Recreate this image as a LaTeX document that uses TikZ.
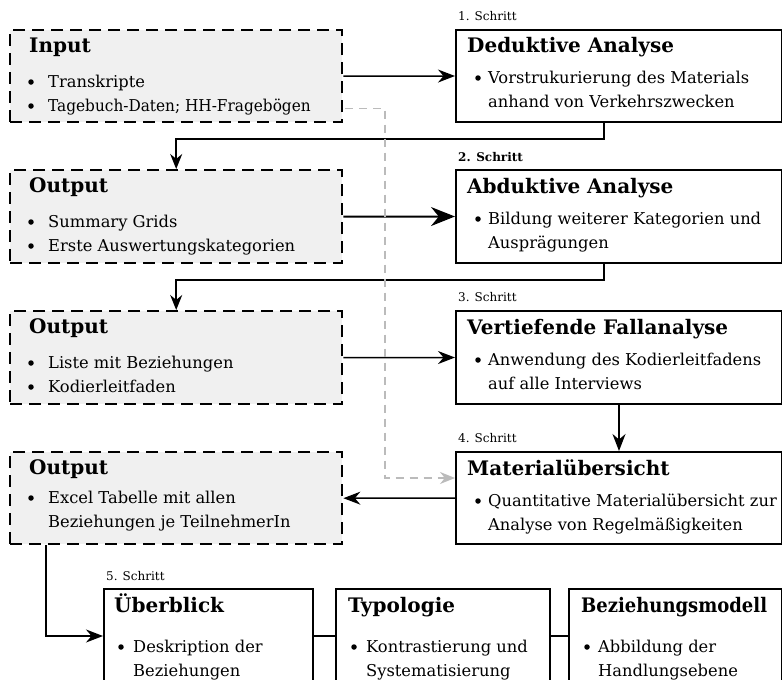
\documentclass[tikz,border=0pt]{standalone}
\usepackage{fontspec}
\usepackage{graphicx}
\setmainfont{DejaVu Serif}
\usetikzlibrary{arrows.meta,calc}
\definecolor{boxgray}{HTML}{F0F0F0}
\definecolor{linkgray}{HTML}{BBBBBB}
\tikzset{
  solidbox/.style={draw, line width=2pt, fill=white, inner sep=0pt, anchor=north west},
  dashbox/.style={draw, line width=2.4pt, dash pattern=on 12pt off 7pt, fill=boxgray, inner sep=0pt, anchor=north west},
  boxtitle/.style={font=\bfseries\fontsize{20}{24}\selectfont, anchor=base west, inner sep=0pt},
  itemtxt/.style={font=\fontsize{16.3}{20}\selectfont, anchor=base west, inner sep=0pt},
  dot/.style={circle, fill=black, inner sep=0pt, minimum size=5.5pt},
  steplabel/.style={font=\fontsize{12}{14}\selectfont, anchor=base west, inner sep=0pt},
  link/.style={line width=1.5pt, -{Stealth[length=17pt,width=13pt]}},
  biglink/.style={line width=2pt, -{Stealth[length=24pt,width=19pt]}},
  plain/.style={line width=1.5pt},
  hint/.style={line width=1.4pt, linkgray, dash pattern=on 8pt off 6pt, -{Stealth[length=15pt,width=12pt]}}
}
\begin{document}
\begin{tikzpicture}[x=1pt,y=-1pt]
\useasboundingbox (0,0) rectangle (782,680);
\begin{scope}
\clip (0,0) rectangle (782,680);

% left column: inputs and outputs
\node[dashbox, minimum width=332pt, minimum height=92pt] (inp) at (9,29) {};
\node[dashbox, minimum width=332pt, minimum height=93pt] (out1) at (9,169) {};
\node[dashbox, minimum width=332pt, minimum height=93pt] (out2) at (9,310) {};
\node[dashbox, minimum width=332pt, minimum height=92pt] (out3) at (9,451) {};

% right column: steps 1-4
\node[solidbox, minimum width=326pt, minimum height=92pt] (ded) at (455,29) {};
\node[solidbox, minimum width=326pt, minimum height=93pt] (abd) at (455,169) {};
\node[solidbox, minimum width=326pt, minimum height=93pt] (vert) at (455,310) {};
\node[solidbox, minimum width=326pt, minimum height=92pt] (mat) at (455,451) {};

% bottom row: step 5
\node[solidbox, minimum width=209pt, minimum height=94pt] (ueb) at (103,588) {};
\node[solidbox, minimum width=214pt, minimum height=94pt] (typ) at (335,588) {};
\node[solidbox, minimum width=213pt, minimum height=94pt] (bez) at (568,588) {};
\end{scope}

% step labels
\node[steplabel] (s1) at (458,20) {1. Schritt};
\node[steplabel, font=\bfseries\fontsize{12}{14}\selectfont] (s2) at (458,161) {2. Schritt};
\node[steplabel] (s3) at (458,301) {3. Schritt};
\node[steplabel] (s4) at (458,442) {4. Schritt};
\node[steplabel] (s5) at (106,580) {5. Schritt};

% Input
\node[boxtitle] (inpT) at (29,52) {Input};
\node[dot] (inpB1) at (31,82) {};
\node[itemtxt] (inpL1) at (48,87) {Transkripte};
\node[dot] (inpB2) at (31,106) {};
\node[itemtxt] (inpL2) at (48,111) {\scalebox{0.94}[1]{Tagebuch-Daten; HH-Fragebögen}};

% Output 1
\node[boxtitle] (o1T) at (29,192) {Output};
\node[dot] (o1B1) at (31,222) {};
\node[itemtxt] (o1L1) at (48,227) {Summary Grids};
\node[dot] (o1B2) at (31,246) {};
\node[itemtxt] (o1L2) at (48,251) {Erste Auswertungskategorien};

% Output 2
\node[boxtitle] (o2T) at (29,333) {Output};
\node[dot] (o2B1) at (31,363) {};
\node[itemtxt] (o2L1) at (48,368) {Liste mit Beziehungen};
\node[dot] (o2B2) at (31,387) {};
\node[itemtxt] (o2L2) at (48,392) {Kodierleitfaden};

% Output 3
\node[boxtitle] (o3T) at (29,474) {Output};
\node[dot] (o3B1) at (31,498) {};
\node[itemtxt] (o3L1) at (48,503) {Excel Tabelle mit allen};
\node[itemtxt] (o3L2) at (48,527) {Beziehungen je TeilnehmerIn};

% Step 1
\node[boxtitle] (dedT) at (467,52) {Deduktive Analyse};
\node[dot] (dedB) at (478,78) {};
\node[itemtxt] (dedL1) at (488,83) {Vorstrukurierung des Materials};
\node[itemtxt] (dedL2) at (488,107) {anhand von Verkehrszwecken};

% Step 2
\node[boxtitle] (abdT) at (467,193) {Abduktive Analyse};
\node[dot] (abdB) at (478,219) {};
\node[itemtxt] (abdL1) at (488,224) {Bildung weiterer Kategorien und};
\node[itemtxt] (abdL2) at (488,248) {Ausprägungen};

% Step 3
\node[boxtitle] (vertT) at (467,334) {Vertiefende Fallanalyse};
\node[dot] (vertB) at (478,360) {};
\node[itemtxt] (vertL1) at (488,365) {Anwendung des Kodierleitfadens};
\node[itemtxt] (vertL2) at (488,389) {auf alle Interviews};

% Step 4
\node[boxtitle] (matT) at (467,475) {Materialübersicht};
\node[dot] (matB) at (478,501) {};
\node[itemtxt] (matL1) at (488,506) {Quantitative Materialübersicht zur};
\node[itemtxt] (matL2) at (488,530) {Analyse von Regelmäßigkeiten};

% Step 5
\node[boxtitle] (uebT) at (114,612) {Überblick};
\node[dot] (uebB) at (121,647) {};
\node[itemtxt] (uebL1) at (133,652) {Deskription der};
\node[itemtxt] (uebL2) at (133,676) {Beziehungen};

\node[boxtitle] (typT) at (348,612) {Typologie};
\node[dot] (typB) at (354,647) {};
\node[itemtxt] (typL1) at (366,652) {Kontrastierung und};
\node[itemtxt] (typL2) at (366,676) {Systematisierung};

\node[boxtitle] (bezT) at (581,612) {\scalebox{0.9}[1]{Beziehungsmodell}};
\node[dot] (bezB) at (587,647) {};
\node[itemtxt] (bezL1) at (598,652) {Abbildung der};
\node[itemtxt] (bezL2) at (598,676) {Handlungsebene};

% connectors
\draw[link] (inp.east) -- (ded.west);
\draw[plain,-{Stealth[length=15pt,width=12pt]}] ($(ded.south)+(-15,0)$) -- ++(0,16) -| (out1.north);
\draw[biglink] (out1.east) -- (abd.west);
\draw[plain,-{Stealth[length=15pt,width=12pt]}] ($(abd.south)+(-15,0)$) -- ++(0,16) -| (out2.north);
\draw[link] (out2.east) -- (vert.west);
\draw[link] (vert.south) -- (mat.north);
\draw[link] (mat.west) -- (out3.east);
\draw[hint] ($(inp.east)+(2,32)$) -| ($(mat.west)+(-70,-20)$) -- ($(mat.west)+(0,-20)$);
\draw[link] ($(out3.south west)+(37,0)$) |- (ueb.west);
\draw[plain] (ueb.east) -- (typ.west);
\draw[plain] (typ.east) -- (bez.west);
\end{tikzpicture}
\end{document}
